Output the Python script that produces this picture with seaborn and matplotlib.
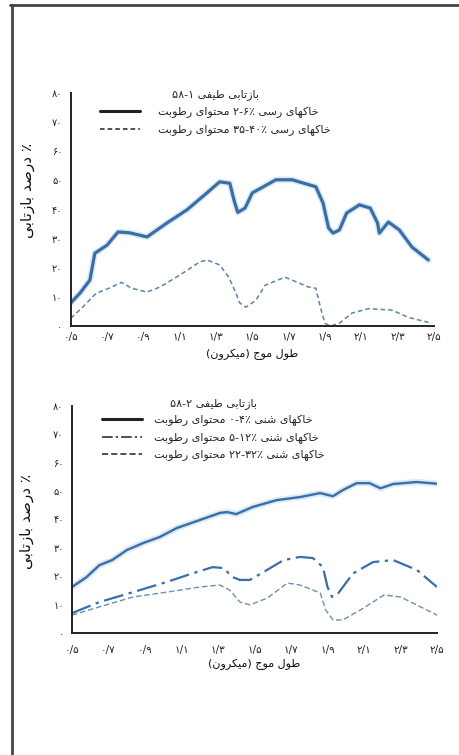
import re
import numpy as np
import pandas as pd
import matplotlib
matplotlib.use("Agg")
import matplotlib.pyplot as plt
import matplotlib.patheffects as pe
from matplotlib.lines import Line2D
import seaborn as sns

# ---------------- data ----------------
x_ticks = [0.5, 0.7, 0.9, 1.1, 1.3, 1.5, 1.7, 1.9, 2.1, 2.3, 2.5]
x_tick_labels = ["۰/۵", "۰/۷", "۰/۹", "۱/۱", "۱/۳", "۱/۵", "۱/۷", "۱/۹", "۲/۱", "۲/۳", "۲/۵"]
y_ticks = [0, 10, 20, 30, 40, 50, 60, 70, 80]
y_tick_labels = ["۰", "۱۰", "۲۰", "۳۰", "۴۰", "۵۰", "۶۰", "۷۰", "۸۰"]

# top chart: clay soils
clay_dry_x = [0.50, 0.55, 0.605, 0.632, 0.70, 0.76, 0.825, 0.92, 1.03, 1.14, 1.25, 1.32, 1.376,
              1.40, 1.42, 1.46, 1.50, 1.63, 1.72, 1.85, 1.89, 1.92, 1.945, 1.98, 2.02, 2.09,
              2.15, 2.19, 2.20, 2.25, 2.31, 2.38, 2.47]
clay_dry_y = [8, 11.3, 15.8, 25, 27.8, 32.3, 32, 30.6, 35.4, 39.9, 45.7, 49.5, 49,
              43, 39, 40.5, 45.7, 50.2, 50.2, 47.8, 42.2, 33.7, 31.9, 33, 38.8, 41.6,
              40.5, 35.4, 31.9, 35.7, 33, 27.1, 22.7]
clay_wet_x = [0.50, 0.565, 0.64, 0.71, 0.78, 0.835, 0.92, 0.99, 1.10, 1.21, 1.25, 1.32, 1.37,
              1.41, 1.43, 1.465, 1.52, 1.57, 1.68, 1.75, 1.81, 1.85, 1.875, 1.90, 1.93, 1.98,
              2.05, 2.14, 2.27, 2.36, 2.49]
clay_wet_y = [2.7, 6.5, 11.3, 13, 15, 13, 11.7, 13.4, 17.5, 22, 22.7, 21, 16.8,
              11.3, 8, 6.5, 8.9, 14, 16.8, 15, 13.4, 13, 6.5, 1, 0, 1,
              4.5, 6, 5.5, 3, 1]

# bottom chart: sandy soils
sand_dry_x = [0.50, 0.58, 0.65, 0.72, 0.80, 0.89, 0.98, 1.075, 1.20, 1.31, 1.35, 1.40, 1.49,
              1.62, 1.75, 1.86, 1.93, 1.985, 2.06, 2.13, 2.19, 2.26, 2.39, 2.50]
sand_dry_y = [16.2, 19.7, 23.9, 25.7, 29.2, 31.7, 33.8, 37, 39.8, 42.3, 42.6, 41.9, 44.4,
              46.8, 47.9, 49.3, 48.2, 50.4, 52.8, 52.8, 51, 52.5, 53.2, 52.6]
sand_mid_x = [0.50, 0.65, 0.835, 1.02, 1.16, 1.27, 1.33, 1.38, 1.42, 1.475, 1.55, 1.66, 1.75,
              1.82, 1.875, 1.90, 1.925, 1.96, 2.04, 2.15, 2.26, 2.39, 2.50]
sand_mid_y = [7, 10.9, 14.4, 18, 21, 23.2, 22.9, 19.7, 18.7, 18.7, 21.5, 25.7, 26.8,
              26.4, 23.2, 16.2, 12.7, 14.1, 21, 25, 25.7, 22.2, 16.2]
sand_wet_x = [0.50, 0.65, 0.835, 1.02, 1.20, 1.31, 1.365, 1.42, 1.475, 1.57, 1.68, 1.75, 1.86,
              1.89, 1.93, 1.985, 2.08, 2.21, 2.30, 2.41, 2.50]
sand_wet_y = [6.3, 9.2, 12.7, 14.4, 16.2, 16.9, 15.1, 10.9, 9.9, 12.3, 17.6, 16.9, 14.1,
              8.1, 4.6, 4.6, 8.1, 13.4, 12.7, 9.2, 6.3]

title_top = "بازتابی طیفی ۵۸-۱"
title_bottom = "بازتابی طیفی ۵۸-۲"
legend_top = ["خاکهای رسی ٪۲-۶ محتوای رطوبت", "خاکهای رسی ٪۳۵-۴۰ محتوای رطوبت"]
legend_bottom = ["خاکهای شنی ٪۰-۴ محتوای رطوبت", "خاکهای شنی ٪۵-۱۲ محتوای رطوبت",
                 "خاکهای شنی ٪۲۲-۳۲ محتوای رطوبت"]
x_label = "طول موج (میکرون)"
y_label = "٪ درصد بازتابی"

# ---------------- minimal Persian shaping (presentation forms + RTL order) ----------------
FORMS = {
    'ا': ('\uFE8D', '\uFE8E', None, None),
    'ب': ('\uFE8F', '\uFE90', '\uFE91', '\uFE92'),
    'ت': ('\uFE95', '\uFE96', '\uFE97', '\uFE98'),
    'ج': ('\uFE9D', '\uFE9E', '\uFE9F', '\uFEA0'),
    'ح': ('\uFEA1', '\uFEA2', '\uFEA3', '\uFEA4'),
    'خ': ('\uFEA5', '\uFEA6', '\uFEA7', '\uFEA8'),
    'د': ('\uFEA9', '\uFEAA', None, None),
    'ر': ('\uFEAD', '\uFEAE', None, None),
    'ز': ('\uFEAF', '\uFEB0', None, None),
    'س': ('\uFEB1', '\uFEB2', '\uFEB3', '\uFEB4'),
    'ش': ('\uFEB5', '\uFEB6', '\uFEB7', '\uFEB8'),
    'ص': ('\uFEB9', '\uFEBA', '\uFEBB', '\uFEBC'),
    'ط': ('\uFEC1', '\uFEC2', '\uFEC3', '\uFEC4'),
    'ع': ('\uFEC9', '\uFECA', '\uFECB', '\uFECC'),
    'ف': ('\uFED1', '\uFED2', '\uFED3', '\uFED4'),
    'ل': ('\uFEDD', '\uFEDE', '\uFEDF', '\uFEE0'),
    'م': ('\uFEE1', '\uFEE2', '\uFEE3', '\uFEE4'),
    'ن': ('\uFEE5', '\uFEE6', '\uFEE7', '\uFEE8'),
    'ه': ('\uFEE9', '\uFEEA', '\uFEEB', '\uFEEC'),
    'و': ('\uFEED', '\uFEEE', None, None),
    'ی': ('\uFBFC', '\uFBFD', '\uFBFE', '\uFBFF'),
    'ک': ('\uFB8E', '\uFB8F', '\uFB90', '\uFB91'),
}
MIRROR = {'(': ')', ')': '('}
NUM = r'[0-9۰-۹]+(?:[/\-.][0-9۰-۹]+)*'


def shape(s):
    out = []
    for i, c in enumerate(s):
        if c not in FORMS:
            out.append(c)
            continue
        prev = s[i - 1] if i > 0 else None
        nxt = s[i + 1] if i + 1 < len(s) else None
        jp = prev in FORMS and FORMS[prev][2] is not None
        jn = nxt in FORMS and FORMS[c][2] is not None
        f = FORMS[c]
        out.append(f[3] if (jp and jn) else f[1] if jp else f[2] if jn else f[0])
    return ''.join(out)


def fa(s):
    parts = re.split('(' + NUM + ')', shape(s))
    res = []
    for p in reversed(parts):
        if re.fullmatch(NUM, p):
            res.append(p)
        else:
            res.append(''.join(MIRROR.get(ch, ch) for ch in reversed(p)))
    return ''.join(res)


# ---------------- figure ----------------
sns.set_theme(style="white")
plt.rcParams['font.family'] = ['DejaVu Sans']
fig = plt.figure(figsize=(4.6, 7.55), dpi=100)
fig.patch.set_facecolor("white")

ax1 = fig.add_axes([0.154, 0.568, 0.789, 0.309])
ax2 = fig.add_axes([0.1565, 0.1616, 0.7935, 0.3007])

blue = "#3a6ea6"
halo = [pe.Stroke(linewidth=4.5, foreground="#dbeaf6"), pe.Normal()]

df_top = pd.DataFrame({"x": clay_dry_x, "y": clay_dry_y})
sns.lineplot(data=df_top, x="x", y="y", ax=ax1, color=blue, lw=2.3, path_effects=halo)
df_top2 = pd.DataFrame({"x": clay_wet_x, "y": clay_wet_y})
sns.lineplot(data=df_top2, x="x", y="y", ax=ax1, color="#5a84aa", lw=1.1,
             linestyle=(0, (3, 2)))

df_b1 = pd.DataFrame({"x": sand_dry_x, "y": sand_dry_y})
sns.lineplot(data=df_b1, x="x", y="y", ax=ax2, color=blue, lw=1.7, path_effects=halo)
df_b2 = pd.DataFrame({"x": sand_mid_x, "y": sand_mid_y})
sns.lineplot(data=df_b2, x="x", y="y", ax=ax2, color=blue, lw=1.6,
             linestyle=(0, (9, 2.5, 1.5, 2.5)))
df_b3 = pd.DataFrame({"x": sand_wet_x, "y": sand_wet_y})
sns.lineplot(data=df_b3, x="x", y="y", ax=ax2, color="#6a90b4", lw=1.0,
             linestyle=(0, (4, 2)))

for ax, xpad, lpad in ((ax1, 4, 5), (ax2, 9, 2)):
    ax.set_xlim(0.5, 2.5)
    ax.set_ylim(0, 80)
    ax.set_facecolor("white")
    ax.set_xticks(x_ticks)
    ax.set_xticklabels(x_tick_labels, fontsize=7.5, color="#111111")
    ax.set_yticks(y_ticks)
    ax.set_yticklabels(y_tick_labels, fontsize=7, color="#111111")
    for side in ("top", "right"):
        ax.spines[side].set_visible(False)
    for side in ("left", "bottom"):
        ax.spines[side].set_color("#222222")
        ax.spines[side].set_linewidth(1.4)
    ax.tick_params(axis="x", direction="in", length=4, width=1, colors="#222222", pad=xpad)
    ax.tick_params(axis="y", direction="out", length=3, width=1, colors="#222222", pad=3)
    ax.set_xlabel(fa(x_label), fontsize=8, labelpad=lpad, color="#111111")
    ax.set_ylabel(fa(y_label), fontsize=11, color="#111111")
    ax.grid(False)
ax1.yaxis.set_label_coords(-0.10, 0.58)
ax2.yaxis.set_label_coords(-0.105, 0.49)

h_top = [Line2D([], [], color="#222", lw=2.2), Line2D([], [], color="#222", lw=1.1, ls=(0, (3, 2)))]
leg1 = ax1.legend(h_top, [fa(t) for t in legend_top], title=fa(title_top), loc="upper left",
                  bbox_to_anchor=(0.06, 1.05), frameon=False, fontsize=8, title_fontsize=8,
                  handlelength=3.6, handletextpad=1.6, labelspacing=0.6, borderpad=0.2)

h_bot = [Line2D([], [], color="#222", lw=2.2),
         Line2D([], [], color="#222", lw=1.1, ls=(0, (7, 2, 1.5, 2))),
         Line2D([], [], color="#222", lw=1.1, ls=(0, (4, 2)))]
leg2 = ax2.legend(h_bot, [fa(t) for t in legend_bottom], title=fa(title_bottom), loc="upper left",
                  bbox_to_anchor=(0.06, 1.07), frameon=False, fontsize=8, title_fontsize=8,
                  handlelength=3.6, handletextpad=1.1, labelspacing=0.55, borderpad=0.2)

# page frame
fig.add_artist(Line2D([12 / 460, 12 / 460], [1 - 5 / 755, 0.0], transform=fig.transFigure,
                      color="#444444", lw=2))
fig.add_artist(Line2D([10 / 460, 1.0], [1 - 5 / 755, 1 - 5 / 755], transform=fig.transFigure,
                      color="#444444", lw=2))

fig.savefig("out.png", dpi=100, facecolor="white")
